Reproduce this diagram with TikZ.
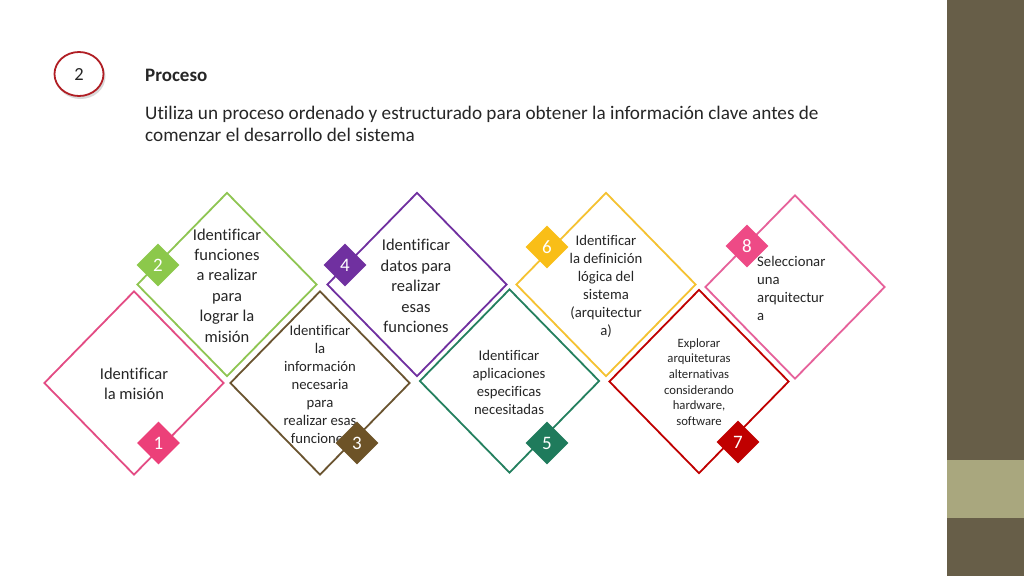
\documentclass[tikz,border=0pt]{standalone}
\usepackage{fontspec}
\setmainfont{Carlito}[Ligatures=NoCommon]
\usetikzlibrary{shapes.geometric}
\definecolor{cpink}{HTML}{E34C84}
\definecolor{cpinkb}{HTML}{EC4079}
\definecolor{cpinkc}{HTML}{E6619A}
\definecolor{cpinkd}{HTML}{EE4A86}
\definecolor{cgreen}{HTML}{8FC552}
\definecolor{cgreenb}{HTML}{8CC84B}
\definecolor{cbrown}{HTML}{6A5430}
\definecolor{cbrownb}{HTML}{6D5327}
\definecolor{cpurple}{HTML}{7030A0}
\definecolor{cteal}{HTML}{24805F}
\definecolor{ctealb}{HTML}{1F7B5C}
\definecolor{cyellow}{HTML}{F5C231}
\definecolor{cyellowb}{HTML}{F9BE17}
\definecolor{cred}{HTML}{C00000}
\definecolor{cpanel}{HTML}{675E48}
\definecolor{cband}{HTML}{A9A77E}
\definecolor{ccirc}{HTML}{B01E24}
\definecolor{ctext}{HTML}{262626}
\pgfdeclareradialshading{vign}{\pgfpoint{0bp}{0bp}}{color(0bp)=(white); color(26bp)=(white); color(50bp)=(black!15)}
\tikzset{
  bigdia/.style={shape=diamond, draw=#1, fill=white, line width=1.8pt, minimum width=180pt, minimum height=184pt, inner sep=0pt},
  badge/.style={shape=diamond, fill=#1, text=white, minimum width=43pt, minimum height=43pt, inner sep=0pt, font=\fontsize{19}{22}\selectfont},
  bigtxt/.style={align=center, text=ctext, inner sep=0pt, font=\fontsize{16.5}{20.4}\selectfont},
  midtxt/.style={align=center, text=ctext, inner sep=0pt, font=\fontsize{14.7}{18}\selectfont},
  smalltxt/.style={align=center, text=ctext, inner sep=0pt, font=\fontsize{12.7}{15.6}\selectfont},
}
\begin{document}
\begin{tikzpicture}[x=1pt,y=-1pt]
\useasboundingbox (0,0) rectangle (1024,576);
\begin{scope}
\clip (0,0) rectangle (947,576);
\shade[shading=vign] (-100,-250) rectangle (1047,826);
\end{scope}
\fill[cpanel] (947,0) rectangle (1024,576);
\fill[cband] (947,460) rectangle (1024,518);

% header
\fill[black!15] (80.5,76.5) ellipse [x radius=25, y radius=22.5];
\node[draw=ccirc, fill=white, line width=1.8pt, shape=ellipse, minimum width=49pt, minimum height=44pt, inner sep=0pt, text=ctext, font=\fontsize{18.5}{21}\selectfont] (hc) at (79,74) {2};
\node[anchor=west, inner sep=0pt, text=ctext, font=\fontsize{19}{22}\selectfont\bfseries] (ht) at (145,75) {Proceso};
\node[anchor=west, align=left, inner sep=0pt, text=ctext, font=\fontsize{19.2}{22}\selectfont] (hp) at (145,124) {Utiliza un proceso ordenado y estructurado para obtener la información clave antes de\\comenzar el desarrollo del sistema};

% big diamonds
\node[bigdia=cpink]   (d1) at (134,383) {};
\node[bigdia=cgreen]  (d2) at (227,284.5) {};
\node[bigdia=cbrown]  (d3) at (320,383) {};
\node[bigdia=cpurple] (d4) at (417,284.5) {};
\node[bigdia=cteal]   (d5) at (509.5,381) {};
\node[bigdia=cyellow] (d6) at (606,284.5) {};
\node[bigdia=cred]    (d7) at (699,381.5) {};
\node[bigdia=cpinkc]  (d8) at (795,287) {};

% texts
\node[bigtxt] (t1) at (134,384) {Identificar\\la misión};
\node[bigtxt] (t2) at (227,285.5) {Identificar\\funciones\\a realizar\\para\\lograr la\\misión};
\node[midtxt] (t3) at (320,384) {Identificar\\la\\información\\necesaria\\para\\realizar esas\\funciones};
\node[bigtxt] (t4) at (416,286) {Identificar\\datos para\\realizar\\esas\\funciones};
\node[midtxt] (t5) at (509,382) {Identificar\\aplicaciones\\especificas\\necesitadas};
\node[midtxt] (t6) at (606,286) {Identificar\\la definición\\lógica del\\sistema\\(arquitectur\\a)};
\node[smalltxt] (t7) at (699,382) {Explorar\\arquiteturas\\alternativas\\considerando\\hardware,\\software};
\node[midtxt, align=left, anchor=west] (t8) at (757,288) {Seleccionar\\una\\arquitectur\\a};

% badges
\node[badge=cpinkb]   (b1) at (158.5,443) {1};
\node[badge=cgreenb]  (b2) at (158,265) {2};
\node[badge=cbrownb]  (b3) at (357,443) {3};
\node[badge=cpurple]  (b4) at (345,265) {4};
\node[badge=ctealb]   (b5) at (547,443) {5};
\node[badge=cyellowb] (b6) at (547,247) {6};
\node[badge=cred]     (b7) at (738,442) {7};
\node[badge=cpinkd]   (b8) at (747,246) {8};
\end{tikzpicture}
\end{document}
